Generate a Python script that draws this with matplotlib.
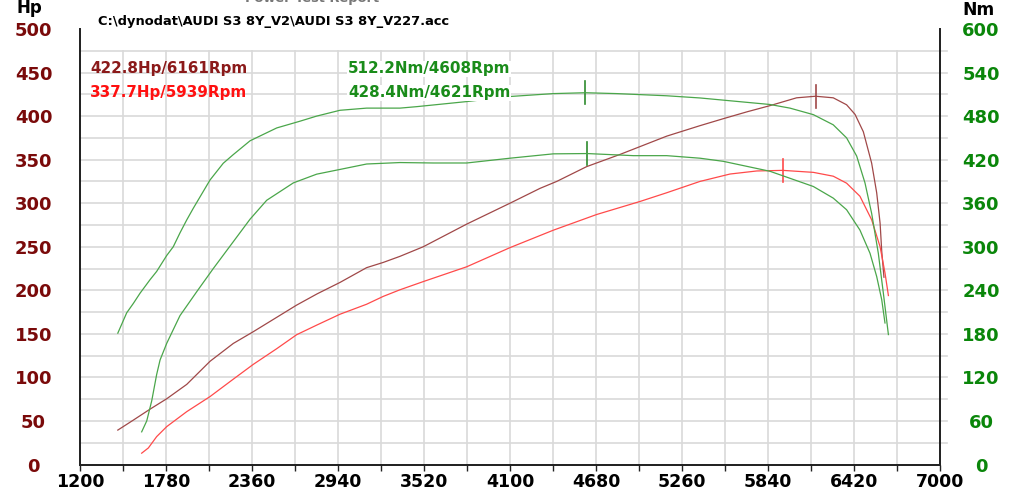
import matplotlib
matplotlib.use("Agg")
import matplotlib.pyplot as plt
import numpy as np

# dyno run data
rpm_hp_tuned = [1455, 1560, 1672, 1785, 1920, 2077, 2234, 2369, 2527, 2661, 2800, 2953, 3133,
                3245, 3358, 3515, 3808, 4100, 4302, 4415, 4617, 4842, 4977, 5157, 5381, 5538,
                5700, 5853, 6033, 6161, 6280, 6370, 6427, 6483, 6539, 6573, 6596, 6607, 6622]
hp_tuned = [39.5, 51, 63.5, 75.5, 92, 118.5, 139, 152.5, 169, 183, 196, 209, 226,
            232, 239, 250, 276, 300, 317, 325, 342, 356, 365, 377, 389, 397,
            405, 412, 421, 422.8, 421, 413, 402, 382, 346, 312, 277, 245, 215]

rpm_hp_stock = [1616, 1661, 1717, 1785, 1920, 2077, 2234, 2369, 2527, 2661, 2796, 2953, 3133,
                3245, 3358, 3515, 3808, 4100, 4392, 4684, 4977, 5157, 5381, 5584, 5764, 5939,
                6146, 6280, 6370, 6460, 6539, 6596, 6629, 6652]
hp_stock = [13, 19, 32, 43.5, 60.7, 78, 98, 115, 133, 149, 160, 172.5, 184,
            193, 200.6, 210, 227, 249, 269, 287, 302, 312, 325, 333.5, 337, 337.7,
            335.4, 331, 323, 308, 281, 250, 220, 194]

rpm_nm_tuned = [1455, 1515, 1560, 1605, 1672, 1717, 1785, 1829, 1874, 1920, 1964, 2077, 2166,
                2234, 2347, 2527, 2684, 2796, 2953, 3133, 3358, 3470, 3808, 4100, 4392, 4608,
                4819, 5157, 5381, 5538, 5853, 5988, 6146, 6280, 6370, 6438, 6494, 6539, 6584,
                6618, 6652]
nm_tuned = [181, 209, 222, 236, 254.5, 266, 288, 300, 319, 337, 353, 392, 415,
            427, 446, 463.7, 473, 480, 488, 491, 491, 493, 500, 507, 511, 512.2,
            511, 508, 505, 502, 496, 491, 482, 468, 450, 425, 388, 346, 291,
            236, 179]

rpm_nm_stock = [1616, 1650, 1684, 1717, 1740, 1785, 1874, 1987, 2099, 2234, 2347, 2459, 2639,
                2796, 2953, 3133, 3358, 3583, 3808, 4100, 4392, 4621, 4932, 5157, 5381, 5538,
                5853, 6146, 6280, 6370, 6460, 6528, 6573, 6607, 6629]
nm_stock = [45, 60, 88, 124, 144, 167, 205, 238, 270, 307, 338, 364, 388,
            400, 406.5, 414, 416, 415.4, 415.4, 422, 428, 428.4, 425.5, 425.5, 422, 417.7,
            404, 383, 367, 351, 323, 291, 259, 227, 195]

# peaks (rpm, value)
peak_hp_tuned = (6161, 422.8)
peak_hp_stock = (5939, 337.7)
peak_nm_tuned = (4608, 512.2)
peak_nm_stock = (4621, 428.4)

x_ticks = list(range(1200, 7001, 580))
hp_ticks = list(range(0, 501, 50))
nm_ticks = list(range(0, 601, 60))

c_dark = "#a04848"
c_red = "#ff4a4a"
c_green = "#4aa64a"
grid_c = "#d9d9d9"

W, H = 1024, 504
fig = plt.figure(figsize=(W / 100, H / 100), dpi=100)
fig.patch.set_facecolor("white")

def fx(px):
    return px / W

def fy(py):
    return 1 - py / H

ax = fig.add_axes([fx(80), fy(464.5), 860 / W, 435.5 / H])
ax.set_xlim(1200, 7000)
ax.set_ylim(0, 500)
ax2 = ax.twinx()
ax2.set_ylim(0, 600)

# grid (stops at 475 like the dyno software)
for xv in np.arange(1490, 7000, 290):
    ax.plot([xv, xv], [0, 475], color=grid_c, lw=1.2, zorder=0)
for yv in np.arange(25, 500, 25):
    ax.plot([1200, 7047], [yv, yv], color=grid_c, lw=1.2, zorder=0, clip_on=False)

# curves
ax.plot(rpm_hp_tuned, hp_tuned, color=c_dark, lw=0.9, zorder=3)
ax.plot(rpm_hp_stock, hp_stock, color=c_red, lw=0.9, zorder=3)
ax2.plot(rpm_nm_tuned, nm_tuned, color=c_green, lw=0.9, zorder=3)
ax2.plot(rpm_nm_stock, nm_stock, color=c_green, lw=0.9, zorder=3)

# peak markers
ax.plot([peak_hp_tuned[0]] * 2, [peak_hp_tuned[1] - 13, peak_hp_tuned[1] + 13], color=c_dark, lw=1.2)
ax.plot([peak_hp_stock[0]] * 2, [peak_hp_stock[1] - 13, peak_hp_stock[1] + 13], color=c_red, lw=1.2)
ax2.plot([peak_nm_tuned[0]] * 2, [peak_nm_tuned[1] - 16, peak_nm_tuned[1] + 16], color="#2e8b2e", lw=1.2)
ax2.plot([peak_nm_stock[0]] * 2, [peak_nm_stock[1] - 16, peak_nm_stock[1] + 16], color="#2e8b2e", lw=1.2)

# spines
for a in (ax, ax2):
    a.spines["top"].set_visible(False)
    for s in ("left", "bottom", "right"):
        a.spines[s].set_linewidth(1.3)
        a.spines[s].set_color("#222222")

# x axis
ax.set_xticks(x_ticks)
ax.set_xticks(np.arange(1490, 7000, 580), minor=True)
ax.tick_params(axis="x", which="both", direction="out", length=4.3, width=1, color="#222222")
ax.tick_params(axis="x", which="major", pad=2, labelsize=12.5)
for lb in ax.get_xticklabels():
    lb.set_fontweight("bold")

# left Hp axis
ax.set_yticks(hp_ticks)
ax.tick_params(axis="y", length=0, pad=33.5, labelsize=13, labelcolor="#7a0a0a")
for lb in ax.get_yticklabels():
    lb.set_fontweight("bold")
    lb.set_horizontalalignment("center")

# right Nm axis
ax2.set_yticks(nm_ticks)
ax2.tick_params(axis="y", length=0, pad=29.5, labelsize=13, labelcolor="#0a860a")
for lb in ax2.get_yticklabels():
    lb.set_fontweight("bold")
    lb.set_horizontalalignment("center")

# header texts
fig.text(fx(17), fy(13), "Hp", fontsize=12, fontweight="bold", va="baseline")
fig.text(fx(962), fy(15), "Nm", fontsize=12.3, fontweight="bold", va="baseline")
fig.text(fx(245), fy(2), "Power Test Report", fontsize=9.4, fontweight="bold",
         color="#777777", va="baseline")
fig.text(fx(98), fy(22), r"C:\dynodat\AUDI S3 8Y_V2\AUDI S3 8Y_V227.acc",
         fontsize=9.4, fontweight="bold", va="center")

# peak readouts
box = dict(facecolor="white", edgecolor="none", pad=0.5)
fig.text(fx(90), fy(69), "%.1fHp/%dRpm" % (peak_hp_tuned[1], peak_hp_tuned[0]),
         fontsize=10.9, fontweight="bold", color="#8b1a1a", va="center", zorder=5)
fig.text(fx(90), fy(93), "%.1fHp/%dRpm" % (peak_hp_stock[1], peak_hp_stock[0]),
         fontsize=10.9, fontweight="bold", color="#ff1010", va="center", zorder=5)
fig.text(fx(348), fy(69), "%.1fNm/%dRpm" % (peak_nm_tuned[1], peak_nm_tuned[0]),
         fontsize=10.9, fontweight="bold", color="#1a8c1a", va="center", zorder=5, bbox=box)
fig.text(fx(348), fy(93), "%.1fNm/%dRpm" % (peak_nm_stock[1], peak_nm_stock[0]),
         fontsize=10.9, fontweight="bold", color="#1a8c1a", va="center", zorder=5, bbox=box)

fig.savefig("out.png", dpi=100, facecolor="white")
